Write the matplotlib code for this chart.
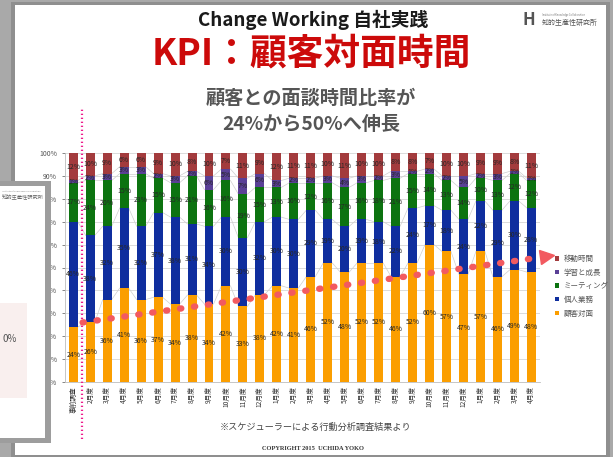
"""KPI slide: stacked share of working time per month (customer-facing time growth)."""
import matplotlib
matplotlib.use("Agg")
import matplotlib.pyplot as plt
import numpy as np
from matplotlib.markers import MarkerStyle
from matplotlib.patches import Patch, Rectangle
from matplotlib.transforms import Affine2D, blended_transform_factory

plt.rcParams["font.family"] = ["Noto Sans CJK JP", "DejaVu Sans"]

################################################################################
# DATA
################################################################################

months = [
    "事前調査", "2月度", "3月度", "4月度", "5月度", "6月度", "7月度", "8月度",
    "9月度", "10月度", "11月度", "12月度", "1月度", "2月度", "3月度", "4月度",
    "5月度", "6月度", "7月度", "8月度", "9月度", "10月度", "11月度", "12月度",
    "1月度", "2月度", "3月度", "4月度",
]
customer = [24, 26, 36, 41, 36, 37, 34, 38, 34, 42, 33, 38, 42, 41,
            46, 52, 48, 52, 52, 46, 52, 60, 57, 47, 57, 46, 49, 48]
individual = [46, 38, 32, 35, 32, 37, 38, 31, 34, 30, 30, 32, 30, 30,
              29, 19, 20, 19, 18, 22, 24, 17, 18, 24, 22, 29, 30, 28]
meeting = [17, 24, 20, 15, 23, 15, 15, 21, 16, 16, 19, 15, 13, 16,
           12, 16, 17, 16, 18, 21, 15, 14, 13, 14, 10, 13, 12, 12]
learning = [1, 2, 3, 3, 3, 2, 3, 2, 6, 5, 7, 6, 3, 2,
            2, 3, 4, 3, 2, 3, 1, 2, 2, 5, 2, 3, 1, 1]
travel = [12, 10, 9, 6, 6, 9, 10, 8, 10, 7, 11, 9, 12, 11,
          11, 10, 11, 10, 10, 8, 8, 7, 10, 10, 9, 9, 8, 11]

series_names = ["顧客対面", "個人業務", "ミーティング", "学習と成長", "移動時間"]
yticks = [0, 10, 20, 30, 40, 50, 60, 70, 80, 90, 100]

# trend arrow drawn on the slide (bar index, percent)
trend_start = (0.55, 26)
trend_end = (27.6, 54.5)

################################################################################
# STYLE
################################################################################

W, H = 613, 457
COLORS = ["#fb9e00", "#0f2e9e", "#0c7310", "#5a4096", "#a33b3d"]
BAR_W = 0.53
AX_RECT = [64.8 / W, 1 - 382 / H, 475 / W, 229 / H]

fig = plt.figure(figsize=(W / 100, H / 100), dpi=100)
fig.patch.set_facecolor("#a9a9a9")


def px_rect(x0, y0, x1, y1, **kw):
    """Rectangle in pixel coords (origin top-left) added to figure."""
    r = Rectangle((x0 / W, 1 - y1 / H), (x1 - x0) / W, (y1 - y0) / H,
                  transform=fig.transFigure, **kw)
    fig.patches.append(r)
    return r


# Main slide with soft shadow.
px_rect(11, 2, 610, 459, facecolor="#8f8f8f", edgecolor="none", zorder=-3)
px_rect(15, 5, 606, 455, facecolor="white", edgecolor="none", zorder=-2)

################################################################################
# CHART
################################################################################

ax = fig.add_axes(AX_RECT)
ax.set_facecolor("none")
x = np.arange(len(months))
stack = [customer, individual, meeting, learning, travel]
bottom = np.zeros(len(months))
tops = []
for vals, col in zip(stack, COLORS):
    vals = np.array(vals, dtype=float)
    ax.bar(x, vals, BAR_W, bottom=bottom, color=col, zorder=3)
    for xi, b, v in zip(x, bottom, vals):
        ax.text(xi, b + v / 2, f"{int(v)}%", ha="center", va="center",
                fontsize=5, color="#262626", zorder=5)
    bottom = bottom + vals
    tops.append(bottom.copy())

# Series lines between neighbouring bars.
for t in tops[:-1]:
    for i in range(len(x) - 1):
        ax.plot([x[i] + BAR_W / 2, x[i + 1] - BAR_W / 2], [t[i], t[i + 1]],
                color="#cfcfcf", lw=0.5, zorder=2)

ax.set_xlim(-0.5, len(months) - 0.5)
ax.set_ylim(0, 100)
ax.set_yticks(yticks)
ax.set_yticklabels([f"{v}%" for v in yticks])
ax.set_xticks(x)
ax.set_xticklabels(months, rotation=90, fontsize=4.8, color="#333333")
ax.tick_params(axis="y", labelsize=5, colors="#555555", length=2, width=0.5)
ax.tick_params(axis="x", length=0, pad=3)
ax.grid(axis="y", color="#d6d6d6", lw=0.6, zorder=0)
for s in ["top", "right"]:
    ax.spines[s].set_visible(False)
ax.spines["left"].set_color("#bdbdbd")
ax.spines["bottom"].set_color("#bdbdbd")
ax.spines["left"].set_linewidth(0.6)
ax.spines["bottom"].set_linewidth(0.6)

# Magenta dotted divider after the baseline survey.
trans = blended_transform_factory(ax.transData, ax.transAxes)
ax.plot([0.5, 0.5], [-0.25, 1.19], transform=trans, color="#ee1c8c",
        lw=1.6, linestyle=(0, (0.6, 1.2)), clip_on=False, zorder=6)

# Red dotted trend arrow.
ax.plot([trend_start[0], trend_end[0]], [trend_start[1], trend_end[1]],
        color="#f25a60", lw=4.6, linestyle=(0, (0.2, 2.0)),
        solid_capstyle="round", dash_capstyle="round", clip_on=False, zorder=7)
p0 = ax.transData.transform(trend_start)
p1 = ax.transData.transform(trend_end)
ang = np.degrees(np.arctan2(p1[1] - p0[1], p1[0] - p0[0]))
ax.plot([trend_end[0] + 0.35], [trend_end[1] + 0.4],
        marker=MarkerStyle(">", transform=Affine2D().rotate_deg(ang)),
        markersize=10, color="#f25a60", clip_on=False, zorder=7)

# Legend (top-down: travel ... customer).
handles = [Patch(facecolor=c, edgecolor="none", label=n)
           for n, c in zip(series_names[::-1], COLORS[::-1])]
ax.legend(handles=handles, loc="upper left", bbox_to_anchor=(552 / W, 1 - 252 / H),
          bbox_transform=fig.transFigure, frameon=False, fontsize=5.4,
          handlelength=0.55, handleheight=0.55, handletextpad=0.6,
          labelspacing=0.75, labelcolor="#555555", borderaxespad=0)

################################################################################
# SLIDE TEXT
################################################################################

fig.text(313 / W, 1 - 20 / H, "Change Working 自社実践", ha="center", va="center",
         fontsize=13.5, fontweight="bold", color="#1a1a1a")
fig.text(311 / W, 1 - 54 / H, "KPI：顧客対面時間", ha="center", va="center",
         fontsize=26.5, fontweight="bold", color="#cc0a0a")
fig.text(311 / W, 1 - 98 / H, "顧客との面談時間比率が", ha="center", va="center",
         fontsize=13.8, fontweight="bold", color="#555555")
fig.text(311 / W, 1 - 124 / H, "24%から50%へ伸長", ha="center", va="center",
         fontsize=13.8, fontweight="bold", color="#555555")

# Logo top-right.
fig.text(529 / W, 1 - 20 / H, "H", ha="center", va="center", fontsize=12,
         fontweight="bold", color="#555555")
fig.text(542 / W, 1 - 15 / H, "Institute of Knowledge Collaboration", ha="left",
         va="center", fontsize=1.8, color="#777777")
fig.text(542 / W, 1 - 23 / H, "知的生産性研究所", ha="left", va="center",
         fontsize=5, color="#555555")

fig.text(316 / W, 1 - 427 / H, "※スケジューラーによる行動分析調査結果より",
         ha="center", va="center", fontsize=6.6, color="#444444")
fig.text(313 / W, 1 - 448 / H, "COPYRIGHT 2015  UCHIDA YOKO", ha="center",
         va="center", fontsize=4.6, fontweight="bold", color="#333333",
         family="Liberation Serif")

################################################################################
# OVERLAPPING SLIDE (lower left)
################################################################################

px_rect(0, 181, 51, 443, facecolor="#9d9d9d", edgecolor="none", zorder=8)
px_rect(0, 186, 45, 438, facecolor="white", edgecolor="none", zorder=9)
px_rect(0, 303, 27, 398, facecolor="#f9efee", edgecolor="none", zorder=10)
fig.text(2 / W, 1 - 191 / H, "Institute of Knowledge Collaboration", ha="left",
         va="center", fontsize=1.6, color="#888888", zorder=11)
fig.text(2 / W, 1 - 197 / H, "知的生産性研究所", ha="left", va="center",
         fontsize=3.8, color="#666666", zorder=11)
fig.text(3 / W, 1 - 339 / H, "0%", ha="left", va="center", fontsize=7,
         color="#555555", zorder=11)

fig.savefig("out.png", dpi=100, facecolor=fig.get_facecolor())
